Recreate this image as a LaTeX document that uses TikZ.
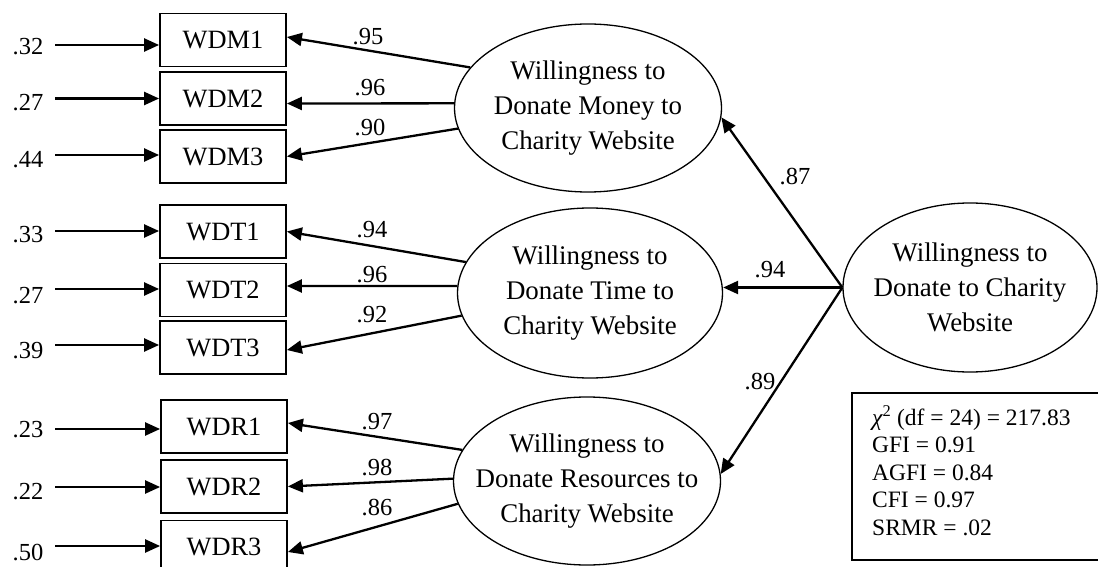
\documentclass[tikz,border=0pt]{standalone}
\usepackage{fontspec}
\setmainfont{Liberation Serif}
\usetikzlibrary{shapes.geometric,arrows.meta}
\begin{document}
\begin{tikzpicture}[x=1pt,y=-1pt,
  indicator/.style={draw,line width=1.8pt,minimum width=126pt,minimum height=53pt,
    inner sep=0pt,font=\fontsize{26.4}{30}\selectfont},
  latent/.style={draw,ellipse,line width=1.3pt,inner sep=0pt},
  latenttext/.style={align=center,inner sep=0pt,font=\fontsize{26.9}{35}\selectfont},
  loading/.style={line width=2.3pt,-{Triangle[length=15pt,width=13pt]}},
  coef/.style={inner sep=0pt,font=\fontsize{24.5}{28}\selectfont},
]
\useasboundingbox (0,0) rectangle (1098,567);

% observed indicators
\node[indicator] (WDM1) at (223,40)    {WDM1};
\node[indicator] (WDM2) at (223,98.5)  {WDM2};
\node[indicator] (WDM3) at (223,156.5) {WDM3};
\node[indicator] (WDT1) at (223,231.5) {WDT1};
\node[indicator] (WDT2) at (223,290)   {WDT2};
\node[indicator] (WDT3) at (223,347.5) {WDT3};
\node[indicator] (WDR1) at (224,426.5) {WDR1};
\node[indicator] (WDR2) at (224,486.5) {WDR2};
\node[indicator] (WDR3) at (224,547)   {WDR3};

% first-order factors
\node[latent,minimum width=267pt,minimum height=168pt] (M) at (588,108) {};
\node[latenttext] (Mt) at (M) {Willingness to\\Donate Money to\\Charity Website};
\node[latent,minimum width=265pt,minimum height=170pt] (T) at (590,293) {};
\node[latenttext] (Tt) at (T) {Willingness to\\Donate Time to\\Charity Website};
\node[latent,minimum width=267pt,minimum height=168pt] (R) at (587,481) {};
\node[latenttext] (Rt) at (R) {Willingness to\\Donate Resources to\\Charity Website};

% second-order factor
\node[latent,minimum width=254pt,minimum height=169pt] (G) at (970,287.5) {};
\node[latenttext] (Gt) at (G) {Willingness to\\Donate to Charity\\Website};

% error terms
\coordinate (s1) at (55,45);
\coordinate (s2) at (55,98.5);
\coordinate (s3) at (55,155);
\coordinate (s4) at (55,231);
\coordinate (s5) at (55,289);
\coordinate (s6) at (55,345);
\coordinate (s7) at (55,429);
\coordinate (s8) at (55,487);
\coordinate (s9) at (55,546);
\node[coef] (u1) at (28,47)  {.32};
\node[coef] (u2) at (28,103) {.27};
\node[coef] (u3) at (28,160) {.44};
\node[coef] (u4) at (28,235) {.33};
\node[coef] (u5) at (28,296) {.27};
\node[coef] (u6) at (28,351) {.39};
\node[coef] (u7) at (28,430) {.23};
\node[coef] (u8) at (28,492) {.22};
\node[coef] (u9) at (28,553) {.50};
\draw[loading] (s1) -- (s1 -| WDM1.west);
\draw[loading] (s2) -- (s2 -| WDM2.west);
\draw[loading] (s3) -- (s3 -| WDM3.west);
\draw[loading] (s4) -- (s4 -| WDT1.west);
\draw[loading] (s5) -- (s5 -| WDT2.west);
\draw[loading] (s6) -- (s6 -| WDT3.west);
\draw[loading] (s7) -- (s7 -| WDR1.west);
\draw[loading] (s8) -- (s8 -| WDR2.west);
\draw[loading] (s9) -- (s9 -| WDR3.west);

% factor loadings
\draw[loading] (M.161) -- ([yshift=3pt]WDM1.east);
\draw[loading] (M.178) -- ([yshift=-5pt]WDM2.east);
\draw[loading] (M.189) -- (WDM3.east);
\draw[loading] (T.166) -- (WDT1.east);
\draw[loading] (T.177) -- ([yshift=4pt]WDT2.east);
\draw[loading] (T.190) -- ([yshift=-2.5pt]WDT3.east);
\draw[loading] (R.166) -- ([yshift=3.5pt]WDR1.east);
\draw[loading] (R.179) -- (WDR2.east);
\draw[loading] (R.190) -- ([yshift=-5pt]WDR3.east);
\node[coef] (l1) at (368,37)  {.95};
\node[coef] (l2) at (370,88)  {.96};
\node[coef] (l3) at (370,128) {.90};
\node[coef] (l4) at (372,230) {.94};
\node[coef] (l5) at (372,275) {.96};
\node[coef] (l6) at (372,315) {.92};
\node[coef] (l7) at (377,422) {.97};
\node[coef] (l8) at (377,468) {.98};
\node[coef] (l9) at (377,508) {.86};

% second-order paths
\draw[loading] (G.west) -- (M.-4);
\draw[loading] (G.west) -- (G.west -| T.east);
\draw[loading] (G.west) -- (R.3);
\node[coef] (g1) at (795,177) {.87};
\node[coef] (g2) at (770,270) {.94};
\node[coef] (g3) at (760,382) {.89};

% fit indices
\node[draw,line width=1.8pt,anchor=north west,minimum width=249pt,minimum height=167pt,
  inner sep=0pt] (fit) at (851,392) {};
\node[anchor=north west,inner sep=0pt,align=left,font=\fontsize{23.5}{27.5}\selectfont]
  (fitt) at ([xshift=21pt,yshift=-13pt]fit.north west)
  {{\itshape χ}\textsuperscript{2} (df = 24) = 217.83\\GFI = 0.91\\AGFI = 0.84\\CFI = 0.97\\SRMR = .02};
\end{tikzpicture}
\end{document}
